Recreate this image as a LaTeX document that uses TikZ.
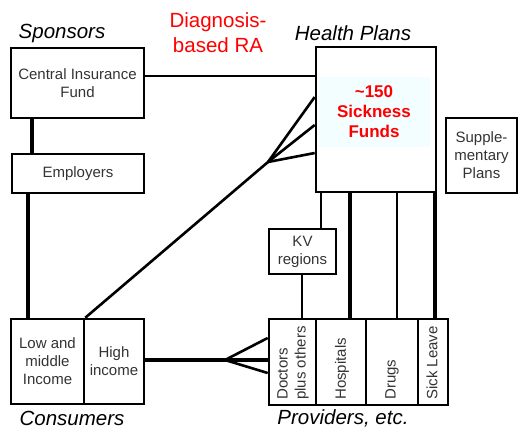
\documentclass[tikz,border=0pt]{standalone}
\usepackage{fontspec}
\setmainfont{Liberation Sans}
\usetikzlibrary{calc}
\definecolor{txt}{HTML}{333333}
\definecolor{lcyan}{HTML}{F2FEFF}
\begin{document}
\begin{tikzpicture}[x=1pt,y=-1pt,
  box/.style={draw=black,line width=2.6pt,inner sep=0pt,align=center,text=txt,font=\fontsize{15}{18}\selectfont},
  lbl/.style={font=\fontsize{20.5}{25}\selectfont\itshape,text=black,inner sep=0pt},
  conn/.style={line width=2.6pt},
  thin/.style={line width=2pt},
  thick/.style={line width=4.2pt},
  rot/.style={rotate=90,anchor=west,inner sep=0pt,align=left,text=txt,font=\fontsize{15}{18}\selectfont}]
\useasboundingbox (0,0) rectangle (520,432);
% labels
\node[lbl] (sp) at (62,33) {Sponsors};
\node[lbl] (hpl) at (353,33) {Health Plans};
\node[lbl] (cons) at (72,418) {Consumers};
\node[lbl] (prov) at (343,418) {Providers, etc.};
\node[lbl,font=\fontsize{20.5}{25}\selectfont,text=red,align=center] (dra) at (218,32.5) {Diagnosis-\\based RA};
% boxes
\node[box,minimum width=133,minimum height=70] (cif) at (77.5,83) {Central Insurance\\Fund};
\node[box,minimum width=132,minimum height=39] (emp) at (78,173.5) {Employers};
\node[box,minimum width=120,minimum height=145] (hp) at (376,119.5) {};
\fill[lcyan] (319,77) rectangle (430,147);
\node[inner sep=0pt,align=center,text=red,font=\fontsize{17}{20}\selectfont\bfseries] (sf) at (374,112) {\textasciitilde150\\Sickness\\Funds};
\node[box,minimum width=71,minimum height=75] (sup) at (481.5,155.5) {Supple-\\mentary\\Plans};
\node[box,minimum width=67,minimum height=45] (kv) at (302.5,251.5) {KV\\regions};
\node[box,minimum width=73,minimum height=85] (low) at (47.5,361.5) {Low and\\middle\\Income};
\node[box,minimum width=60,minimum height=85] (high) at (114,361.5) {High\\income};
\node[box,minimum width=47,minimum height=86] (doc) at (292.5,362) {};
\node[box,minimum width=50,minimum height=86] (hos) at (341,362) {};
\node[box,minimum width=52,minimum height=86] (dru) at (392,362) {};
\node[box,minimum width=30,minimum height=86] (sick) at (433,362) {};
\node[rot] (tdoc) at (293,400) {Doctors\\plus others};
\node[rot] (thos) at (342,400) {Hospitals};
\node[rot] (tdru) at (392,400) {Drugs};
\node[rot] (tsick) at (432,400) {Sick Leave};
% connectors
\draw[thin] (cif.east |- 0,76) -- (hp.west |- 0,76);
\draw[thick] (cif.south -| 32,0) -- (emp.north -| 32,0);
\draw[thick] (emp.south -| 28,0) -- (low.north -| 28,0);
\coordinate (f1) at (268,162);
\draw[conn] (f1) -- (hp.west |- 0,97);
\draw[conn] (f1) -- (hp.west |- 0,125);
\draw[conn] (f1) -- (hp.west |- 0,153);
\draw[conn] (f1) -- (low.north east);
\coordinate (f2) at (225,360);
\draw[thick] (high.east |- f2) -- (f2);
\draw[conn] (f2) -- (doc.west |- 0,338);
\draw[thick] (f2) -- (doc.west |- 0,360);
\draw[conn] (f2) -- (doc.west |- 0,373);
\draw[conn] (hp.south -| 321,0) -- (kv.north -| 321,0);
\draw[conn] (kv.south -| 302,0) -- (doc.north -| 302,0);
\draw[thick] (hp.south -| 350,0) -- (hos.north -| 350,0);
\draw[conn] (hp.south -| 397,0) -- (dru.north -| 397,0);
\draw[thick] (hp.south -| 435,0) -- (sick.north -| 435,0);
\end{tikzpicture}
\end{document}
